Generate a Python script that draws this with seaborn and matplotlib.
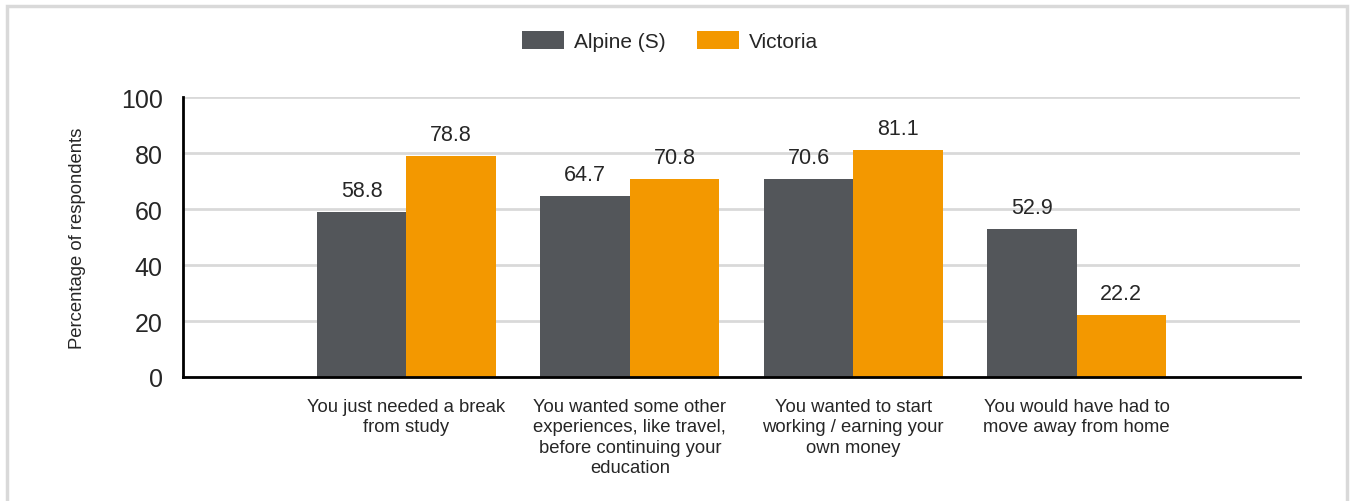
import matplotlib
matplotlib.use("Agg")
import matplotlib.pyplot as plt
import seaborn as sns
import pandas as pd
from matplotlib.patches import Rectangle

categories = [
    "You just needed a break\nfrom study",
    "You wanted some other\nexperiences, like travel,\nbefore continuing your\neducation",
    "You wanted to start\nworking / earning your\nown money",
    "You would have had to\nmove away from home",
]
series_names = ["Alpine (S)", "Victoria"]
alpine = [58.8, 64.7, 70.6, 52.9]
victoria = [78.8, 70.8, 81.1, 22.2]
y_ticks = [0, 20, 40, 60, 80, 100]

colors = ["#53565a", "#f39800"]

df = pd.DataFrame({
    "category": categories * 2,
    "series": [series_names[0]] * 4 + [series_names[1]] * 4,
    "value": alpine + victoria,
})

sns.set_style("white")
plt.rcParams["font.family"] = ["Liberation Sans", "DejaVu Sans"]

fig = plt.figure(figsize=(13.5, 5.02), dpi=100)
ax = fig.add_axes([183/1350, 1-378/502, (1300-183)/1350, (378-98)/502])

sns.barplot(data=df, x="category", y="value", hue="series", order=categories,
            hue_order=series_names, palette=colors, width=0.8, ax=ax,
            saturation=1, legend=True, linewidth=0)

ax.set_xlim(-1, 4)
ax.set_ylim(0, 100)
ax.set_yticks(y_ticks)
ax.set_yticklabels([str(t) for t in y_ticks], fontsize=18)
ax.yaxis.grid(True, color="#d9d9d9", linewidth=2)
ax.set_axisbelow(True)
ax.tick_params(axis="y", length=9.5, color="#555555", width=1, pad=5)
ax.set_xticks(range(len(categories)))
ax.set_xticklabels(categories, fontsize=13.3, linespacing=1.27)
ax.set_xticks([-1, 4], minor=True)
ax.tick_params(axis="x", which="both", length=5, color="#555555", width=1, pad=10)
ax.set_xlabel("")
ax.set_ylabel("Percentage of respondents", fontsize=13.3, labelpad=25)

for s in ["top", "right"]:
    ax.spines[s].set_visible(False)
for s in ["left", "bottom"]:
    ax.spines[s].set_color("black")
    ax.spines[s].set_linewidth(2)

for cont in ax.containers:
    ax.bar_label(cont, fmt="%.1f", padding=8, fontsize=15.5)

handles, labels = ax.get_legend_handles_labels()
ax.get_legend().remove()
fig.legend(handles, labels, loc="center", bbox_to_anchor=(670/1350, 1-42/502),
           ncol=2, frameon=False, fontsize=15, handlelength=2.0, handleheight=1.0,
           columnspacing=1.5, handletextpad=0.48, borderpad=0)

fig.patches.append(Rectangle((7/1350, -0.1), (1347-7)/1350, 1.1 - 7/502,
                             transform=fig.transFigure, fill=False,
                             edgecolor="#d9d9d9", linewidth=2.5))

fig.savefig("out.png", dpi=100)
